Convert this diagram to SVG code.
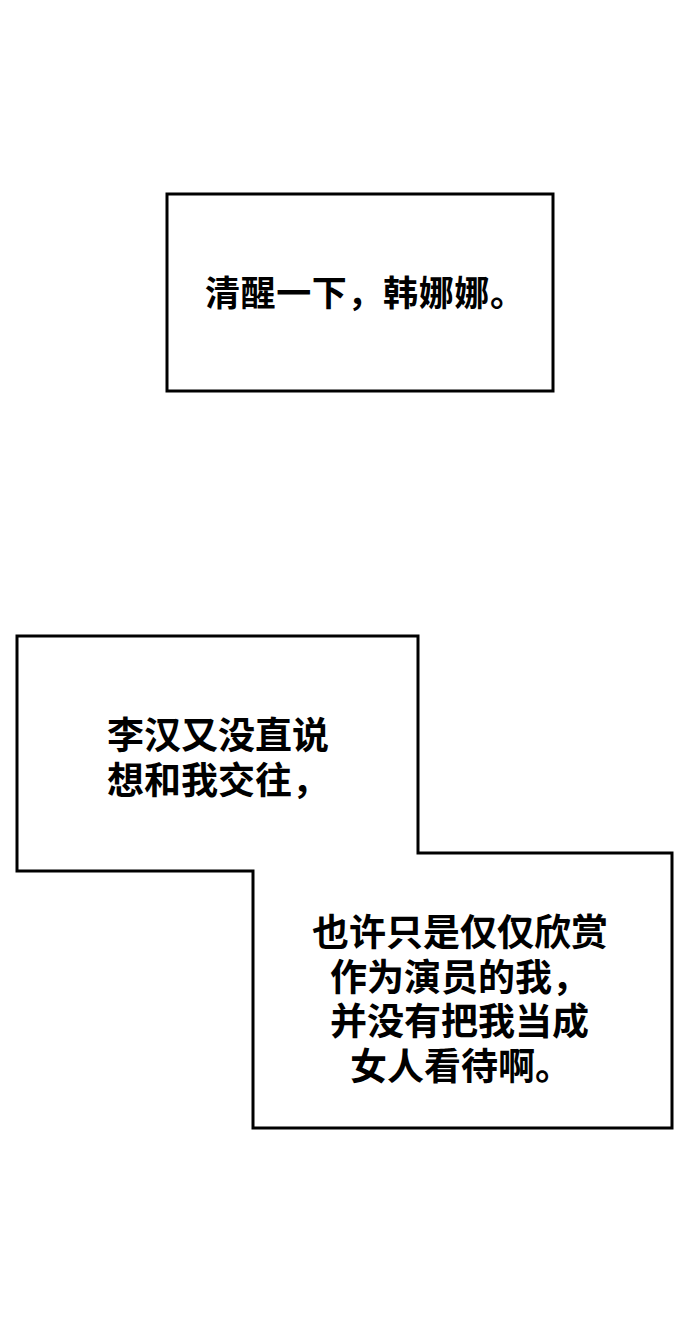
<svg xmlns="http://www.w3.org/2000/svg" width="690" height="1319" viewBox="0 0 690 1319">
<style>
.b{fill:#fff;stroke:#000;stroke-width:3}
.t{font-family:"Liberation Serif","Noto Sans CJK SC",serif;font-size:37px;font-weight:700;fill:#000}
</style>
<rect width="690" height="1319" fill="#fff"/>
<g id="box1">
<rect class="b" x="167" y="194" width="386" height="197"/>
<text class="t" x="205" y="306" style="font-size:35px" textLength="320">清醒一下，韩娜娜。</text>
</g>
<g id="box2">
<polygon class="b" points="17,636 418,636 418,853 672,853 672,1128 253,1128 253,871 17,871"/>
<text class="t" x="107" y="749">李汉又没直说</text>
<text class="t" x="107" y="794">想和我交往，</text>
<text class="t" x="312" y="946">也许只是仅仅欣赏</text>
<text class="t" x="330" y="991">作为演员的我，</text>
<text class="t" x="330" y="1035">并没有把我当成</text>
<text class="t" x="350" y="1080">女人看待啊。</text>
</g>
</svg>
